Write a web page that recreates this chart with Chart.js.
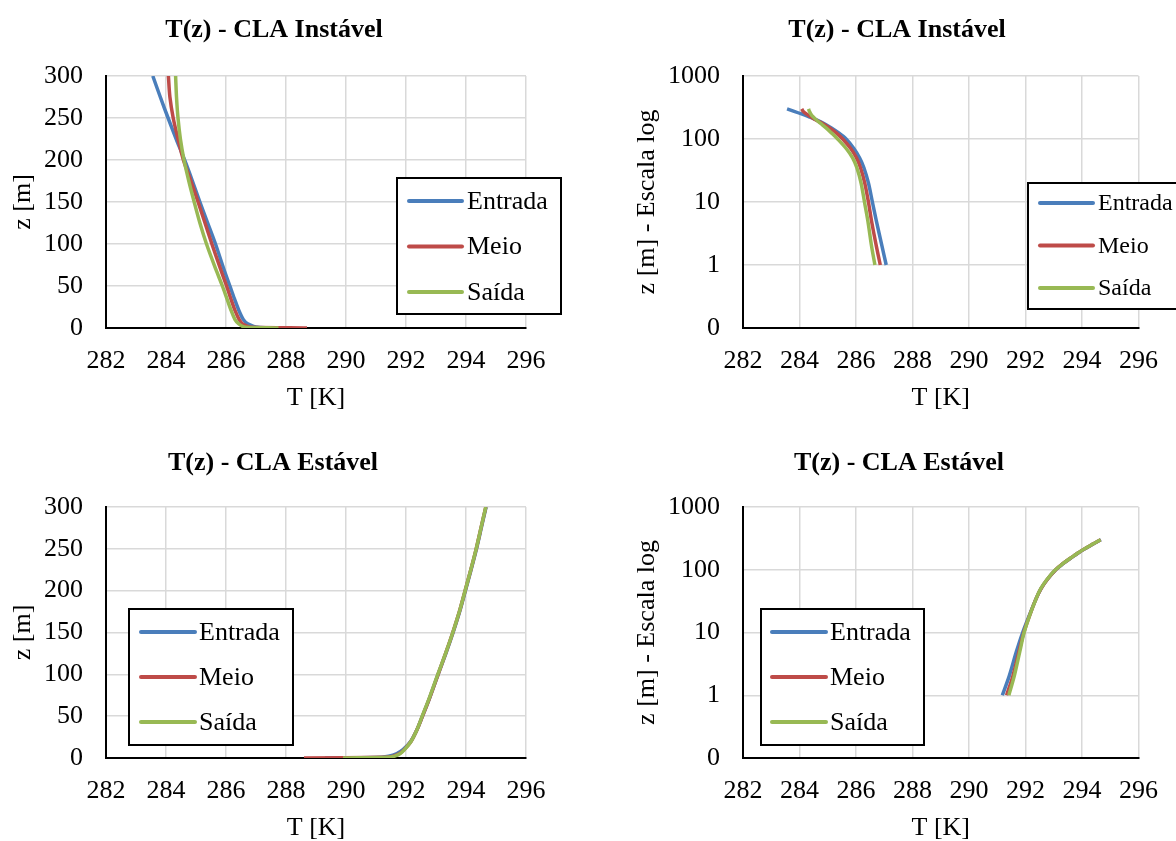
<!DOCTYPE html>
<html lang="pt">
<head>
<meta charset="utf-8">
<title>T(z) - CLA</title>
<script src="https://cdn.jsdelivr.net/npm/chart.js@4.4.1/dist/chart.umd.min.js"></script>
<style>
    html, body { margin: 0; padding: 0; background: #fff; overflow: hidden; }
    #wrap { position: relative; width: 1176px; height: 841px; overflow: hidden; }
    #wrap canvas { position: absolute; }
</style>
</head>
<body>
<div id="wrap">
    <canvas id="instLin" width="588" height="420" style="left:0;top:0"></canvas>
    <canvas id="instLog" width="588" height="420" style="left:588px;top:0"></canvas>
    <canvas id="estLin" width="588" height="440" style="left:0;top:420px"></canvas>
    <canvas id="estLog" width="588" height="440" style="left:588px;top:420px"></canvas>
</div>
<script>
    // altura z [m] comum a todas as séries
    var Z_M = [0, 1, 2, 5, 10, 20, 35, 50, 70, 100, 125, 150, 175, 200, 225, 250, 275, 300];

    // CLA instável - T [K]
    var T_INST_ENTRADA = [287.6, 287.07, 286.92, 286.72, 286.58, 286.44, 286.28, 286.13, 285.93, 285.65, 285.39, 285.13, 284.88, 284.62, 284.34, 284.07, 283.81, 283.56];
    var T_INST_MEIO = [288.7, 286.86, 286.72, 286.55, 286.44, 286.31, 286.16, 286.02, 285.82, 285.53, 285.3, 285.07, 284.83, 284.58, 284.4, 284.24, 284.13, 284.08];
    var T_INST_SAIDA = [287.75, 286.67, 286.55, 286.42, 286.3, 286.18, 286.03, 285.88, 285.66, 285.35, 285.13, 284.94, 284.76, 284.6, 284.48, 284.4, 284.35, 284.32];

    // CLA estável - T [K]
    var T_EST_ENTRADA = [289.3, 291.18, 291.42, 291.68, 291.9, 292.16, 292.38, 292.55, 292.77, 293.07, 293.33, 293.57, 293.79, 293.98, 294.17, 294.35, 294.51, 294.67];
    var T_EST_MEIO = [288.6, 291.33, 291.55, 291.77, 291.94, 292.17, 292.38, 292.55, 292.77, 293.07, 293.32, 293.56, 293.78, 293.97, 294.16, 294.34, 294.5, 294.66];
    var T_EST_SAIDA = [289.9, 291.41, 291.6, 291.8, 291.95, 292.17, 292.38, 292.54, 292.76, 293.06, 293.32, 293.56, 293.78, 293.97, 294.16, 294.34, 294.5, 294.66];

    var SERIES_NAMES = ['Entrada', 'Meio', 'Saída'];
    var SERIES_COLORS = ['#4A7EBB', '#BE4B48', '#98B954'];

    var T_MIN = 282, T_MAX = 296, T_STEP = 2;
    var Z_MAX = 300, Z_STEP = 50;
    var LOG_TICKS = [0.1, 1, 10, 100, 1000];

    var FONT = "'Liberation Serif', 'Times New Roman', Times, serif";

    function buildDatasets(temps, logScale) {
        return temps.map(function (arr, i) {
            var pts = [];
            Z_M.forEach(function (z, k) {
                if (!logScale || z > 0) pts.push({ x: arr[k], y: z });
            });
            return {
                label: SERIES_NAMES[i],
                data: pts,
                borderColor: SERIES_COLORS[i],
                backgroundColor: SERIES_COLORS[i],
                borderWidth: 3.5,
                pointRadius: 0,
                tension: 0.3,
                fill: false,
                order: 3 - i
            };
        });
    }

    // título e legenda em caixa, como no Excel
    var decorPlugin = {
        id: 'decor',
        afterDatasetsDraw: function (chart, args, opts) {
            var ctx = chart.ctx;
            ctx.save();
            ctx.fillStyle = '#000';
            ctx.font = 'bold 26px ' + FONT;
            ctx.textAlign = 'center';
            ctx.textBaseline = 'alphabetic';
            ctx.fillText(opts.title, opts.titleX, opts.titleY);

            var lg = opts.legend;
            ctx.fillStyle = '#fff';
            ctx.fillRect(lg.x, lg.y, lg.w, lg.h);
            ctx.lineWidth = 2;
            ctx.strokeStyle = '#000';
            ctx.strokeRect(lg.x, lg.y, lg.w, lg.h);

            ctx.font = lg.size + 'px ' + FONT;
            ctx.textAlign = 'left';
            ctx.textBaseline = 'middle';
            chart.data.datasets.forEach(function (ds, i) {
                var y = lg.firstY + i * lg.gap;
                ctx.strokeStyle = ds.borderColor;
                ctx.lineWidth = 4;
                ctx.lineCap = 'round';
                ctx.beginPath();
                ctx.moveTo(lg.lineX0, y);
                ctx.lineTo(lg.lineX1, y);
                ctx.stroke();
                ctx.fillStyle = '#000';
                ctx.fillText(ds.label, lg.textX, y + 1);
            });
            ctx.restore();
        }
    };

    function makeChart(id, p) {
        var tickFont = { family: FONT, size: 26 };
        var yScale = {
            min: p.logY ? 0.1 : 0,
            max: p.logY ? 1000 : Z_MAX,
            ticks: { color: '#000', font: tickFont, padding: 23 },
            grid: { color: '#d9d9d9', lineWidth: 1.5, drawTicks: false },
            border: { color: '#000', width: 2 },
            title: { display: true, text: p.yTitle, color: '#000', font: tickFont, padding: { top: 8, bottom: 8 } },
            afterFit: function (s) { s.width = p.yWidth; }
        };
        if (p.logY) {
            yScale.type = 'logarithmic';
            yScale.afterBuildTicks = function (s) {
                s.ticks = LOG_TICKS.map(function (v) { return { value: v }; });
            };
            // Excel mostra 0,1 como "0" (formato sem casas decimais)
            yScale.ticks.callback = function (v) { return v < 1 ? '0' : String(v); };
        } else {
            yScale.type = 'linear';
            yScale.ticks.stepSize = Z_STEP;
        }

        return new Chart(document.getElementById(id), {
            type: 'line',
            data: { datasets: buildDatasets(p.temps, p.logY) },
            plugins: [decorPlugin],
            options: {
                responsive: false,
                animation: false,
                devicePixelRatio: 1,
                layout: { padding: p.padding },
                plugins: {
                    legend: { display: false },
                    tooltip: { enabled: false },
                    decor: { title: p.title, titleX: p.titleX, titleY: p.titleY, legend: p.legend }
                },
                scales: {
                    x: {
                        type: 'linear',
                        min: T_MIN,
                        max: T_MAX,
                        ticks: { stepSize: T_STEP, color: '#000', font: tickFont, padding: 18 },
                        grid: { color: '#d9d9d9', lineWidth: 1.5, drawTicks: false },
                        border: { color: '#000', width: 2 },
                        title: { display: true, text: 'T [K]', color: '#000', font: tickFont, padding: { top: 4, bottom: 4 } },
                        afterFit: function (s) { s.height = 90; }
                    },
                    y: yScale
                }
            }
        });
    }

    makeChart('instLin', {
        temps: [T_INST_ENTRADA, T_INST_MEIO, T_INST_SAIDA],
        logY: false, yTitle: 'z [m]', yWidth: 106,
        padding: { left: 0, top: 76, right: 62, bottom: 2 },
        title: 'T(z) - CLA Instável', titleX: 274, titleY: 37,
        legend: { x: 397, y: 178, w: 164, h: 136, lineX0: 409, lineX1: 462, textX: 467, firstY: 201, gap: 45.5, size: 26 }
    });

    makeChart('instLog', {
        temps: [T_INST_ENTRADA, T_INST_MEIO, T_INST_SAIDA],
        logY: true, yTitle: 'z [m] - Escala log', yWidth: 119,
        padding: { left: 36, top: 76, right: 27, bottom: 2 },
        title: 'T(z) - CLA Instável', titleX: 309, titleY: 37,
        legend: { x: 440, y: 183, w: 164, h: 126, lineX0: 452, lineX1: 505, textX: 510, firstY: 203, gap: 42.5, size: 24 }
    });

    makeChart('estLin', {
        temps: [T_EST_ENTRADA, T_EST_MEIO, T_EST_SAIDA],
        logY: false, yTitle: 'z [m]', yWidth: 106,
        padding: { left: 0, top: 87, right: 62, bottom: 12 },
        title: 'T(z) - CLA Estável', titleX: 273, titleY: 50,
        legend: { x: 129, y: 189, w: 164, h: 136, lineX0: 141, lineX1: 195, textX: 199, firstY: 212, gap: 45, size: 26 }
    });

    makeChart('estLog', {
        temps: [T_EST_ENTRADA, T_EST_MEIO, T_EST_SAIDA],
        logY: true, yTitle: 'z [m] - Escala log', yWidth: 119,
        padding: { left: 36, top: 87, right: 27, bottom: 12 },
        title: 'T(z) - CLA Estável', titleX: 311, titleY: 50,
        legend: { x: 173, y: 189, w: 163, h: 136, lineX0: 184, lineX1: 238, textX: 242, firstY: 212, gap: 45, size: 26 }
    });
</script>
</body>
</html>
